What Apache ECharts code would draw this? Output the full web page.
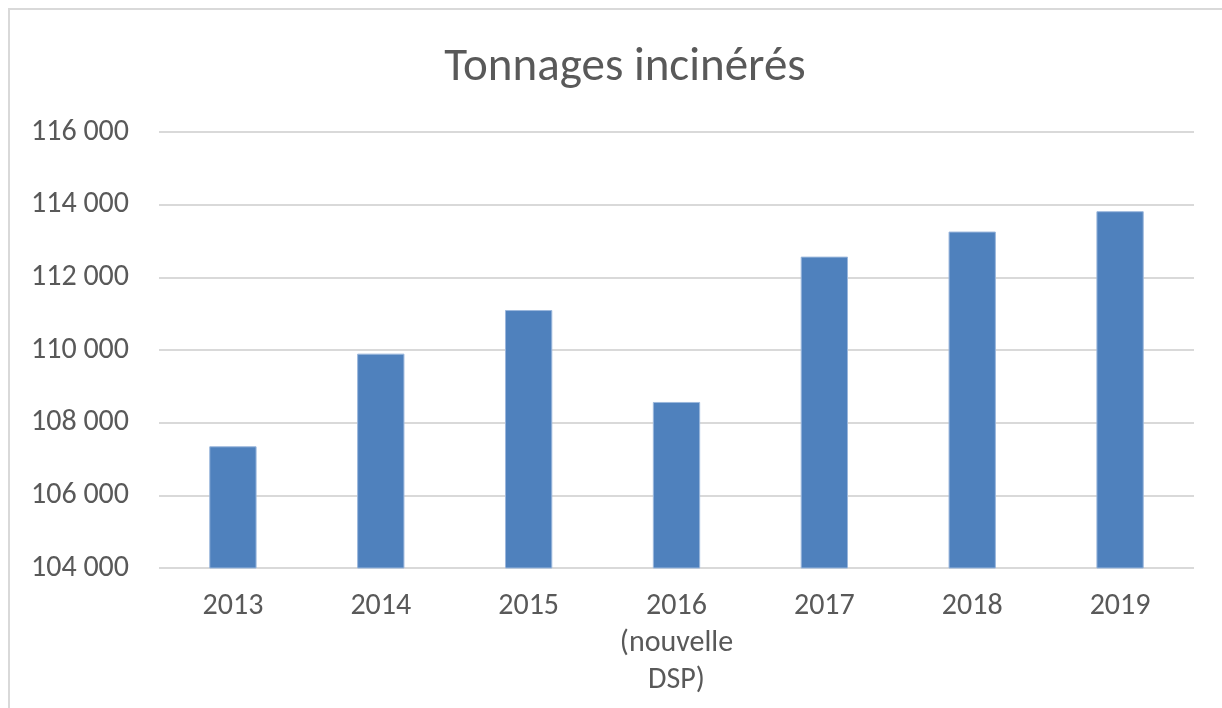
<!DOCTYPE html>
<html>
<head>
<meta charset="utf-8">
<script src="https://cdn.jsdelivr.net/npm/echarts@6/dist/echarts.min.js"></script>
<style>
  html, body { margin: 0; padding: 0; background: #fff; }
  #main { width: 1222px; height: 708px; }
</style>
</head>
<body>
<div id="main"></div>
<script>
const years = ["2013", "2014", "2015", "2016\n(nouvelle\nDSP)", "2017", "2018", "2019"];
const tonnages = [107350, 109900, 111100, 108570, 112570, 113260, 113820];

const font = "Carlito, 'Liberation Sans Narrow', 'Liberation Sans', sans-serif";

let chartDom = document.getElementById("main");
let myChart = echarts.init(chartDom);

let option = {
  backgroundColor: "#fff",
  animation: false,
  title: {
    text: "Tonnages incinérés",
    left: 620,
    textAlign: "center",
    top: 40,
    textStyle: {
      fontFamily: font,
      fontSize: 47,
      fontWeight: "normal",
      color: "#595959",
    },
  },
  graphic: [
    {
      type: "rect",
      shape: { x: 9, y: 9, width: 1300, height: 800 },
      style: { fill: "none", stroke: "#d9d9d9", lineWidth: 2 },
      silent: true,
    },
  ],
  grid: {
    left: 159,
    right: 28,
    top: 132,
    bottom: 140,
  },
  xAxis: {
    type: "category",
    data: years,
    axisLine: { show: false },
    axisTick: { show: false },
    axisLabel: {
      margin: 20,
      fontFamily: font,
      fontSize: 30,
      lineHeight: 37,
      color: "#595959",
      interval: 0,
    },
  },
  yAxis: {
    type: "value",
    min: 104000,
    max: 116000,
    interval: 2000,
    axisLine: { show: false },
    axisTick: { show: false },
    splitLine: { lineStyle: { color: "#d9d9d9", width: 2 } },
    axisLabel: {
      margin: 30,
      fontFamily: font,
      fontSize: 30,
      color: "#595959",
      formatter: function (v) {
        return Math.floor(v / 1000) + " " + String(v % 1000).padStart(3, "0");
      },
    },
  },
  series: [
    {
      name: "Tonnages",
      type: "bar",
      barWidth: "32%",
      data: tonnages,
      itemStyle: {
        color: "#4f81bd",
        borderColor: "#9bb7dc",
        borderWidth: 1,
      },
    },
  ],
};
option && myChart.setOption(option);
</script>
</body>
</html>
